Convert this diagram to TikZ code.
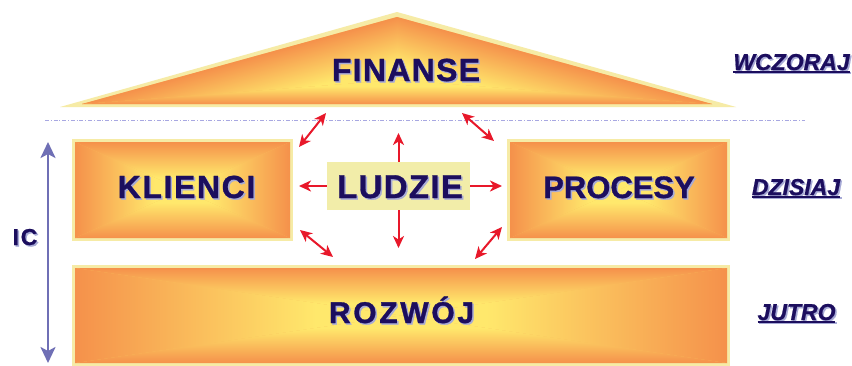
\documentclass[tikz,border=0pt]{standalone}
\usepackage{fontspec}
\setmainfont{Liberation Sans}
\usetikzlibrary{arrows.meta}

\definecolor{orng}{HTML}{F5914B}
\definecolor{yell}{HTML}{FFE86C}
\definecolor{rim}{HTML}{F6EBA6}
\definecolor{ludfill}{HTML}{F2EDA9}
\definecolor{navy}{HTML}{1C0E5E}
\definecolor{txtshadow}{HTML}{A7AAD6}
\definecolor{redarrow}{HTML}{E8182A}
\definecolor{icblue}{HTML}{6F6FB5}
\definecolor{dashline}{HTML}{A8A8E2}

% edge-to-centre fades: orange at the named edge, yellow towards the centre
\pgfdeclareverticalshading{edgeT}{100bp}{color(0bp)=(yell); color(25bp)=(yell); color(38bp)=(yell); color(75bp)=(orng); color(100bp)=(orng)}
\pgfdeclareverticalshading{edgeB}{100bp}{color(0bp)=(orng); color(25bp)=(orng); color(62bp)=(yell); color(75bp)=(yell); color(100bp)=(yell)}
\pgfdeclarehorizontalshading{edgeL}{100bp}{color(0bp)=(orng); color(25bp)=(orng); color(62bp)=(yell); color(75bp)=(yell); color(100bp)=(yell)}
\pgfdeclarehorizontalshading{edgeR}{100bp}{color(0bp)=(yell); color(25bp)=(yell); color(38bp)=(yell); color(75bp)=(orng); color(100bp)=(orng)}

% text with a soft offset shadow
\newcommand\shd[1]{\rlap{\kern1.5pt\raisebox{-1.5pt}{\color{txtshadow}#1}}{\color{navy}#1}}
% thick underline
\newcommand\uln[1]{\setbox0=\hbox{#1}\rlap{\rule[-2.8pt]{\wd0}{1.9pt}}\box0}

% rectangle filled with a gradient running from the edges to the centre
\newcommand\gradrect[4]{%
  \fill[orng!45!yell] (#1,#2) rectangle (#3,#4);
  \coordinate (gc) at ({(#1+#3)/2},{(#2+#4)/2});
  \shade[shading=edgeT] (#1,#2) -- (#3,#2) -- (gc) -- cycle;
  \shade[shading=edgeB] (#1,#4) -- (#3,#4) -- (gc) -- cycle;
  \shade[shading=edgeL] (#1,#2) -- (#1,#4) -- (gc) -- cycle;
  \shade[shading=edgeR] (#3,#2) -- (#3,#4) -- (gc) -- cycle;
}

\tikzset{
  word/.style={inner sep=0pt,anchor=base},
  redtip/.style={},
  redlink/.style={draw=redarrow,line width=2pt,
    arrows={-Stealth[length=12pt,width=11pt,inset=3.5pt]}},
  redboth/.style={draw=redarrow,line width=2pt,
    arrows={Stealth[length=12pt,width=11pt,inset=3.5pt]-Stealth[length=12pt,width=11pt,inset=3.5pt]}},
}

\begin{document}
\begin{tikzpicture}[x=1pt,y=-1pt]
\useasboundingbox[fill=white] (0,0) rectangle (852,365);

% ---- roof ----
\fill[rim] (397,12) -- (60,107) -- (736,107) -- cycle;
\coordinate (rl) at (82,104);
\coordinate (ra) at (397,17);
\coordinate (rr) at (712,104);
\coordinate (rc) at (397,80);
\fill[orng!45!yell] (rl) -- (ra) -- (rr) -- cycle;
\shade[shading=edgeB] (rl) -- (rr) -- (rc) -- cycle;
\begin{scope}
  \clip (rl) -- (ra) -- (rc) -- cycle;
  \begin{scope}[transform canvas={shift={(rl)},rotate=15.44}]
    \shade[shading=edgeT] (-20,0) rectangle (350,60.7);
  \end{scope}
\end{scope}
\begin{scope}
  \clip (ra) -- (rr) -- (rc) -- cycle;
  \begin{scope}[transform canvas={shift={(ra)},rotate=-15.44}]
    \shade[shading=edgeT] (-20,0) rectangle (350,60.7);
  \end{scope}
\end{scope}

% ---- boundary line ----
\draw[dashline,line width=1pt,dash pattern=on 4pt off 1.8pt on 1pt off 1.8pt]
  (45,120) coordinate (lineL) -- (805,120) coordinate (lineR);

% ---- boxes ----
\fill[rim] (72,139) rectangle (293,241);
\gradrect{75}{142}{290}{238}
\fill[rim] (507,139) rectangle (730,241);
\gradrect{510}{142}{727}{238}
\fill[rim] (72,265) rectangle (730,366);
\gradrect{75}{268}{727}{363}

% ---- labels ----
\node[word,font=\fontsize{32}{32}\selectfont\bfseries\addfontfeatures{LetterSpace=4,FakeBold=1}]
  (finanse) at (406,81) {\shd{FINANSE}};
\node[word,font=\fontsize{32}{32}\selectfont\bfseries\addfontfeatures{LetterSpace=5,FakeBold=1}]
  (klienci) at (186.5,198) {\shd{KLIENCI}};
\node[word,font=\fontsize{31}{31}\selectfont\bfseries\addfontfeatures{FakeBold=1}]
  (procesy) at (619,198) {\shd{PROCESY}};
\node[word,font=\fontsize{30}{30}\selectfont\bfseries\addfontfeatures{LetterSpace=9,FakeBold=1}]
  (rozwoj) at (401.5,323) {\shd{ROZWÓJ}};

\node[fill=ludfill,minimum width=143pt,minimum height=48pt,inner sep=0pt]
  (ludzie) at (398.5,186) {};
\node[word,font=\fontsize{33}{33}\selectfont\bfseries\addfontfeatures{LetterSpace=4,FakeBold=1}]
  (ludzietxt) at (400,198) {\shd{LUDZIE}};

\node[word,font=\fontsize{23}{23}\selectfont\bfseries\itshape\addfontfeatures{FakeBold=0.8}]
  (wczoraj) at (791.5,70) {\shd{\uln{WCZORAJ}}};
\node[word,font=\fontsize{23}{23}\selectfont\bfseries\itshape\addfontfeatures{FakeBold=0.8}]
  (dzisiaj) at (796,195) {\shd{\uln{DZISIAJ}}};
\node[word,font=\fontsize{23}{23}\selectfont\bfseries\itshape\addfontfeatures{FakeBold=0.8}]
  (jutro) at (796.5,320) {\shd{\uln{JUTRO}}};

\node[word,font=\fontsize{23}{23}\selectfont\bfseries\addfontfeatures{LetterSpace=8,FakeBold=0.8}]
  (ic) at (25,245) {\shd{IC}};

% ---- time axis ----
\coordinate (icTop) at (48,142);
\coordinate (icBot) at (48,363);
\draw[icblue,line width=2.6pt,
  arrows={Stealth[length=16pt,width=15pt,inset=4pt]-Stealth[length=16pt,width=15pt,inset=4pt]}]
  (icTop) -- (icBot);

% ---- arrows around LUDZIE ----
\coordinate (upEnd) at (398.5,133);
\coordinate (downEnd) at (398.5,248);
\coordinate (leftEnd) at (299,186);
\coordinate (rightEnd) at (502,186);
\draw[redlink] (ludzie.north) -- (upEnd);
\draw[redlink] (ludzie.south) -- (downEnd);
\draw[redlink] (ludzie.west) -- (leftEnd);
\draw[redlink] (ludzie.east) -- (rightEnd);

\coordinate (ulA) at (299,147);
\coordinate (ulB) at (326,113);
\coordinate (urA) at (462,113);
\coordinate (urB) at (494,141);
\coordinate (llA) at (300,230);
\coordinate (llB) at (333,257);
\coordinate (lrA) at (475,259);
\coordinate (lrB) at (502,227);
\draw[redboth] (ulA) -- (ulB);
\draw[redboth] (urA) -- (urB);
\draw[redboth] (llA) -- (llB);
\draw[redboth] (lrA) -- (lrB);
\end{tikzpicture}
\end{document}
